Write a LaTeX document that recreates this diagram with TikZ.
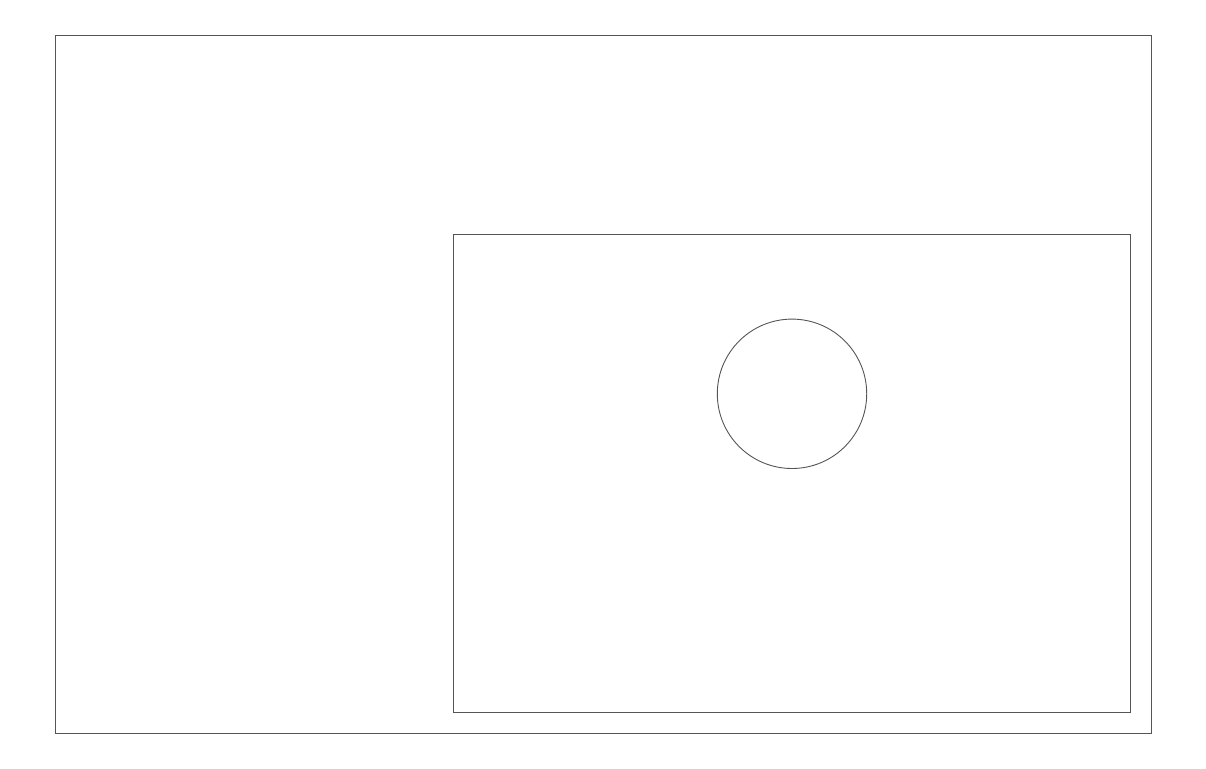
\documentclass[tikz,border=0pt]{standalone}
\definecolor{linegray}{HTML}{555555}
\begin{document}
\begin{tikzpicture}[x=1pt,y=-1pt,
  outline/.style={draw=linegray,line width=0.9pt}]
\useasboundingbox (0,0) rectangle (1206,768);
\draw[outline] (55,35) rectangle (1151,733);
\draw[outline] (453.7,234.3) rectangle (1130.7,712.7);
\node[outline,circle,minimum size=149.4pt,inner sep=0pt] (c) at (792,393.8) {};
\end{tikzpicture}
\end{document}
